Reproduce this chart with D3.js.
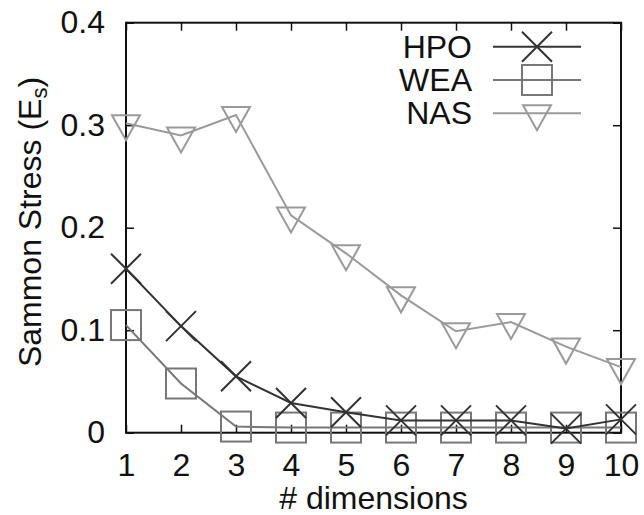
<!DOCTYPE html>
<html>
<head>
  <script src="https://cdnjs.cloudflare.com/ajax/libs/d3/7.8.5/d3.min.js"></script>
  <style>
    body { margin: 0; background: #fff; }
    text { font-family: "Liberation Sans", Arial, sans-serif; fill: #111; }
  </style>
</head>
<body>
  <script>
    var width = 644,
        height = 515;

    // data
    var dims = [1, 2, 3, 4, 5, 6, 7, 8, 9, 10];
    var hpo = [0.160, 0.104, 0.055, 0.029, 0.020, 0.012, 0.012, 0.012, 0.004, 0.013];
    var wea = [0.105, 0.048, 0.006, 0.005, 0.005, 0.005, 0.005, 0.005, 0.005, 0.005];
    var nas = [0.302, 0.290, 0.310, 0.212, 0.175, 0.134, 0.099, 0.108, 0.084, 0.064];
    var yTicks = [0, 0.1, 0.2, 0.3, 0.4];
    var seriesNames = ["HPO", "WEA", "NAS"];

    var series = [
      {name: "WEA", values: wea, color: "#777", marker: "square"},
      {name: "NAS", values: nas, color: "#9a9a9a", marker: "triangle"},
      {name: "HPO", values: hpo, color: "#333", marker: "cross"}
    ];

    var plotL = 126, plotR = 621, plotT = 22.7, plotB = 432.7;

    var svg = d3.select("body").append("svg")
        .attr("width", width)
        .attr("height", height);

    var x = d3.scaleLinear().domain([1, 10]).range([plotL, plotR]);
    var y = d3.scaleLinear().domain([0, 0.4]).range([plotB, plotT]);

    // axes with inward ticks, gnuplot style
    var yFmt = function(d) { return d === 0 ? "0" : d3.format(".1f")(d); };

    svg.append("g")
        .attr("transform", "translate(" + plotL + ",0)")
        .call(d3.axisLeft(y).tickValues(yTicks).tickFormat(yFmt).tickSizeInner(-8).tickSizeOuter(0).tickPadding(21))
        .call(function(g) { g.select(".domain").remove(); });

    svg.append("g")
        .attr("transform", "translate(" + plotR + ",0)")
        .call(d3.axisRight(y).tickValues(yTicks).tickFormat("").tickSizeInner(-8).tickSizeOuter(0))
        .call(function(g) { g.select(".domain").remove(); });

    svg.append("g")
        .attr("transform", "translate(0," + plotB + ")")
        .call(d3.axisBottom(x).tickValues(dims).tickFormat(d3.format("d")).tickSizeInner(-8).tickSizeOuter(0).tickPadding(20.5))
        .call(function(g) { g.select(".domain").remove(); });

    svg.append("g")
        .attr("transform", "translate(0," + plotT + ")")
        .call(d3.axisTop(x).tickValues(dims).tickFormat("").tickSizeInner(-8).tickSizeOuter(0))
        .call(function(g) { g.select(".domain").remove(); });

    svg.selectAll(".tick line").attr("stroke", "#111").attr("stroke-width", 1.5);
    svg.selectAll(".tick text").style("font-size", "32px").attr("fill", "#111")
        .style("font-family", "'Liberation Sans', Arial, sans-serif");

    // frame
    svg.append("rect")
        .attr("x", plotL).attr("y", plotT)
        .attr("width", plotR - plotL).attr("height", plotB - plotT)
        .attr("fill", "none")
        .attr("stroke", "#111")
        .attr("stroke-width", 2);

    // axis titles
    svg.append("text")
        .attr("x", (plotL + plotR) / 2)
        .attr("y", 509)
        .attr("text-anchor", "middle")
        .style("font-size", "32px")
        .text("# dimensions");

    var yt = svg.append("text")
        .attr("transform", "translate(41,222) rotate(-90)")
        .attr("text-anchor", "middle")
        .style("font-size", "32px");
    yt.append("tspan").text("Sammon Stress (E");
    yt.append("tspan").attr("dy", 6).style("font-size", "22px").text("s");
    yt.append("tspan").attr("dy", -6).text(")");

    function drawMarker(g, type, cx, cy, color) {
      if (type === "cross") {
        g.append("path")
            .attr("d", "M" + (cx - 15) + "," + (cy - 15) + "L" + (cx + 15) + "," + (cy + 15) +
                       "M" + (cx - 15) + "," + (cy + 15) + "L" + (cx + 15) + "," + (cy - 15))
            .attr("stroke", color).attr("stroke-width", 2).attr("fill", "none");
      } else if (type === "square") {
        g.append("rect")
            .attr("x", cx - 15).attr("y", cy - 15)
            .attr("width", 30).attr("height", 30)
            .attr("stroke", color).attr("stroke-width", 2).attr("fill", "none");
      } else {
        g.append("path")
            .attr("d", "M" + (cx - 14) + "," + (cy - 8) + "L" + (cx + 14) + "," + (cy - 8) +
                       "L" + cx + "," + (cy + 17) + "Z")
            .attr("stroke", color).attr("stroke-width", 2).attr("fill", "none");
      }
    }

    var line = d3.line()
        .x(function(d, i) { return x(dims[i]); })
        .y(function(d) { return y(d); });

    series.forEach(function(s) {
      var g = svg.append("g");
      g.append("path")
          .datum(s.values)
          .attr("d", line)
          .attr("fill", "none")
          .attr("stroke", s.color)
          .attr("stroke-width", 2);
      s.values.forEach(function(v, i) {
        drawMarker(g, s.marker, x(dims[i]), y(v), s.color);
      });
    });

    // legend
    var legendRows = [46.7, 80, 113.3];
    seriesNames.forEach(function(name, i) {
      var s = series.find(function(d) { return d.name === name; });
      var ly = legendRows[i];
      var g = svg.append("g");
      g.append("text")
          .attr("x", 472)
          .attr("y", ly)
          .attr("text-anchor", "end")
          .attr("dominant-baseline", "central")
          .style("font-size", "32px")
          .text(name);
      g.append("line")
          .attr("x1", 493).attr("x2", 581)
          .attr("y1", ly).attr("y2", ly)
          .attr("stroke", s.color)
          .attr("stroke-width", 2);
      drawMarker(g, s.marker, 537, ly, s.color);
    });
  </script>
</body>
</html>
